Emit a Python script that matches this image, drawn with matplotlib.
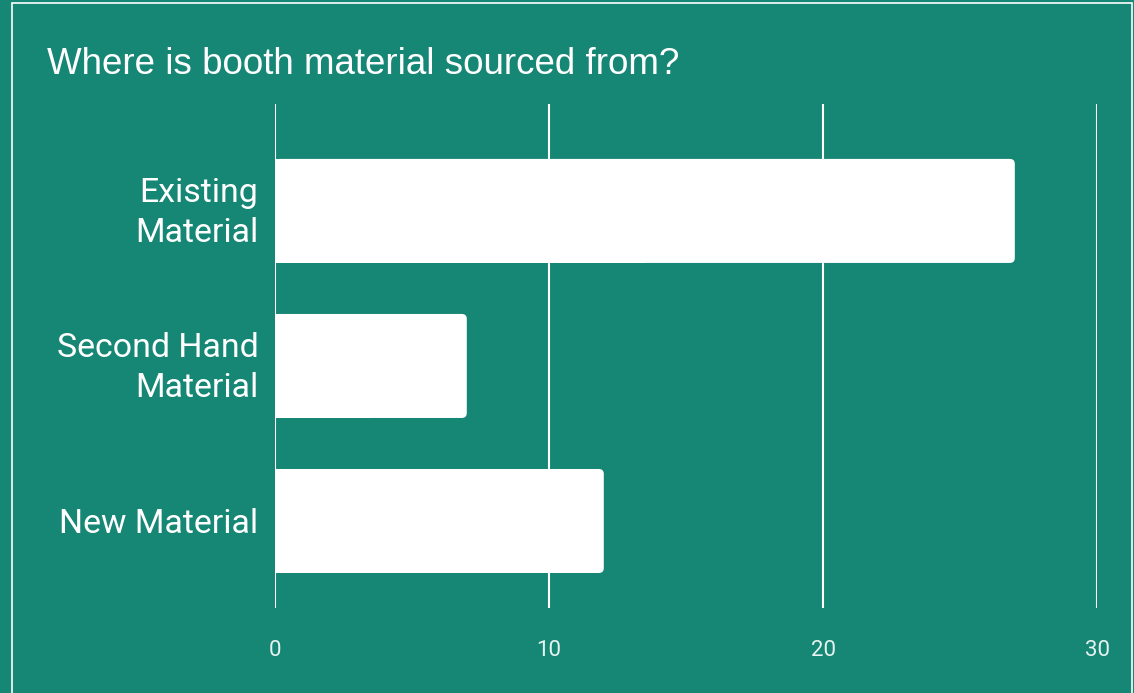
import matplotlib
matplotlib.use("Agg")
import matplotlib.pyplot as plt
from matplotlib.patches import FancyBboxPatch, Rectangle
from matplotlib.transforms import ScaledTranslation

# Survey answers
categories = ["Existing\nMaterial", "Second Hand\nMaterial", "New Material"]
counts = [27, 7, 12]
x_ticks = [0, 10, 20, 30]
title = "Where is booth material sourced from?"

BG = "#168675"
FG = "#ffffff"

fig = plt.figure(figsize=(11.34, 6.93), dpi=100, facecolor=BG)
ax = fig.add_axes([0.2425, 0.1227, 0.7249, 0.7273])
ax.set_facecolor(BG)

ax.set_xlim(0, 30)
ax.set_ylim(2.561, -0.690)

bar_h = 0.671
x_per_px = 30 / 822
y_per_px = 1 / 155
radius = 5 * x_per_px
for i, v in enumerate(counts):
    # rounded bar, then a square block on the left to keep the base flat
    ax.add_patch(FancyBboxPatch((0, i - bar_h / 2), v, bar_h,
                                boxstyle=f"round,pad=0,rounding_size={radius}",
                                mutation_aspect=y_per_px / x_per_px,
                                facecolor=FG, edgecolor="none", zorder=3))
    ax.add_patch(Rectangle((0, i - bar_h / 2), v / 2, bar_h,
                           facecolor=FG, edgecolor="none", zorder=3))

# category labels, right-aligned just left of the axis
ax.set_yticks(range(len(categories)))
ax.set_yticklabels([])
for i, cat in enumerate(categories):
    dy = 3.6 / 72 if "\n" in cat else 0
    tr = ax.get_yaxis_transform() + ScaledTranslation(-12 / 72, dy,
                                                      fig.dpi_scale_trans)
    ax.text(0, i, cat, transform=tr, ha="right", va="center_baseline",
            multialignment="right", fontsize=24.4, color=FG,
            family="Roboto", linespacing=1.32)

ax.set_xticks(x_ticks)
ax.set_xticklabels([str(t) for t in x_ticks], fontsize=16, color="#e6f3f0",
                   family="Roboto")
ax.tick_params(axis="both", length=0)
ax.tick_params(axis="x", pad=23)

ax.grid(axis="x", color=FG, linewidth=1.5, zorder=1)
ax.set_axisbelow(True)
for s in ax.spines.values():
    s.set_visible(False)

fig.text(47 / 1134, 1 - 65 / 693, title, fontsize=26.5, color=FG,
         family="Liberation Sans", va="center", ha="left")

# thin frame around the card
fig.add_artist(Rectangle((12 / 1134, -0.05), (1132 - 12) / 1134, 1.05 - 3 / 693,
                         transform=fig.transFigure, facecolor="none",
                         edgecolor=FG, linewidth=1.2))

fig.savefig("out.png", dpi=100, facecolor=BG)
